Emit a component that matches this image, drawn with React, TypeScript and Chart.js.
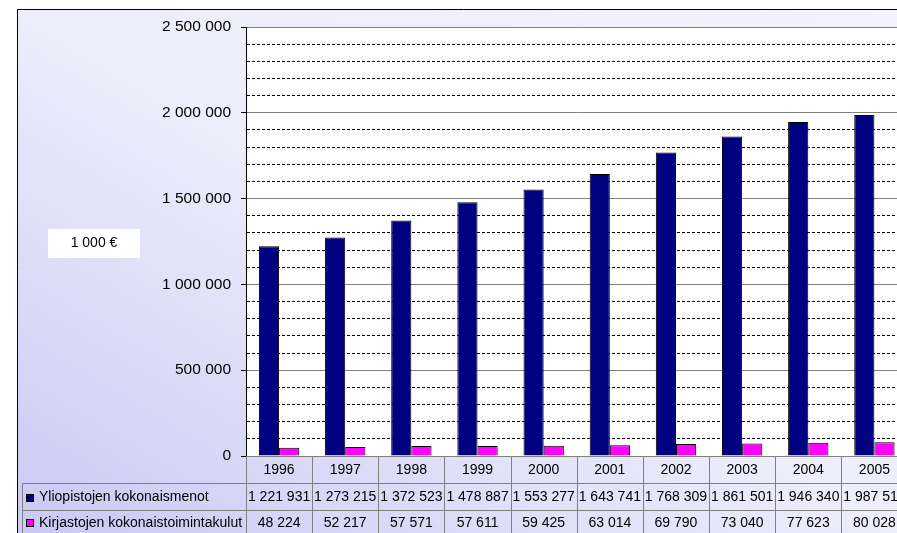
import React, { useEffect, useRef } from 'react';
import { Chart, registerables } from 'chart.js';

Chart.register(...registerables);

const years = ['1996', '1997', '1998', '1999', '2000', '2001', '2002', '2003', '2004', '2005'];
const yliopistot = [1221931, 1273215, 1372523, 1478887, 1553277, 1643741, 1768309, 1861501, 1946340, 1987514];
const kirjastot = [48224, 52217, 57571, 57611, 59425, 63014, 69790, 73040, 77623, 80028];
const seriesNames = ['Yliopistojen kokonaismenot', 'Kirjastojen kokonaistoimintakulut'];
const seriesColors = ['#000080', '#FF00FF'];
const unitLabel = '1 000 €';
const yMax = 2500000;
const majorStep = 500000;
const minorStep = 100000;

const FONT = '"Liberation Sans", Arial, sans-serif';
const fmt = (v: number) => String(v).replace(/\B(?=(\d{3})+(?!\d))/g, ' ');

const W = 910;
const H = 533;

const bgPlugin = {
  id: 'bgPlugin',
  beforeDraw(chart: any) {
    const { ctx, chartArea, width, height } = chart;
    ctx.save();
    ctx.fillStyle = '#ffffff';
    ctx.fillRect(0, 0, width, height);
    const g = ctx.createLinearGradient(17, 533, 541, -347);
    g.addColorStop(0, 'rgb(201,201,244)');
    g.addColorStop(0.44, 'rgb(237,237,251)');
    g.addColorStop(1, 'rgb(244,244,253)');
    ctx.fillStyle = g;
    ctx.fillRect(17, 9, width - 17, height - 9);
    ctx.strokeStyle = '#000';
    ctx.lineWidth = 1;
    ctx.beginPath();
    ctx.moveTo(17.5, height);
    ctx.lineTo(17.5, 9.5);
    ctx.lineTo(width, 9.5);
    ctx.stroke();
    ctx.fillStyle = '#ffffff';
    ctx.fillRect(chartArea.left, chartArea.top, chartArea.right - chartArea.left, chartArea.bottom - chartArea.top);
    // unit box
    ctx.fillRect(48, 229, 92, 29);
    ctx.fillStyle = '#000';
    ctx.font = `14px ${FONT}`;
    ctx.textAlign = 'center';
    ctx.textBaseline = 'middle';
    ctx.fillText(unitLabel, 94, 243.5);
    ctx.restore();
  },
  afterDraw(chart: any) {
    const { ctx, chartArea, width, height } = chart;
    const xs = chart.scales.x;
    const n = years.length;
    const bounds: number[] = [];
    for (let i = 0; i <= n; i++) bounds.push(xs.getPixelForValue(i - 0.5));
    const r0 = chartArea.bottom;
    const r1 = 483;
    const r2 = 510;
    const tableLeft = 22;
    ctx.save();
    ctx.strokeStyle = '#808080';
    ctx.lineWidth = 1;
    ctx.beginPath();
    ctx.moveTo(tableLeft, r1 + 0.5);
    ctx.lineTo(width, r1 + 0.5);
    ctx.moveTo(tableLeft, r2 + 0.5);
    ctx.lineTo(width, r2 + 0.5);
    ctx.moveTo(tableLeft + 0.5, r1);
    ctx.lineTo(tableLeft + 0.5, height);
    for (let i = 0; i < bounds.length; i++) {
      const bx = Math.round(bounds[i]) + 0.5;
      ctx.moveTo(bx, r0);
      ctx.lineTo(bx, height);
    }
    ctx.stroke();

    ctx.fillStyle = '#000';
    ctx.font = `14px ${FONT}`;
    ctx.textAlign = 'center';
    ctx.textBaseline = 'middle';
    const rowsY = [(r0 + r1) / 2 + 0.5, (r1 + r2) / 2 + 1, 523];
    const rows = [yliopistot, kirjastot];
    for (let i = 0; i < n; i++) {
      const cx = (bounds[i] + bounds[i + 1]) / 2;
      ctx.fillText(years[i], cx, rowsY[0]);
      ctx.fillText(fmt(rows[0][i]), cx, rowsY[1]);
      ctx.fillText(fmt(rows[1][i]), cx, rowsY[2]);
    }
    // legend keys
    ctx.textAlign = 'left';
    for (let s = 0; s < 2; s++) {
      const cy = rowsY[s + 1];
      ctx.fillStyle = seriesColors[s];
      ctx.fillRect(26, Math.round(cy - 4), 8, 8);
      ctx.strokeStyle = '#000';
      ctx.strokeRect(26.5, Math.round(cy - 4) + 0.5, 7, 7);
      ctx.fillStyle = '#000';
      ctx.fillText(seriesNames[s], 39, cy);
    }
    ctx.restore();
  },
};

export default function App() {
  const ref = useRef<HTMLCanvasElement | null>(null);
  useEffect(() => {
    if (!ref.current) return;
    const isMajor = (c: any) => c && c.tick && c.tick.value % majorStep === 0;
    const chart = new Chart(ref.current, {
      type: 'bar',
      data: {
        labels: years,
        datasets: [
          {
            label: seriesNames[0],
            data: yliopistot,
            backgroundColor: seriesColors[0],
            borderColor: '#000',
            borderWidth: 1,
            categoryPercentage: 0.61,
            barPercentage: 1,
          },
          {
            label: seriesNames[1],
            data: kirjastot,
            backgroundColor: seriesColors[1],
            borderColor: '#000',
            borderWidth: 1,
            categoryPercentage: 0.61,
            barPercentage: 1,
          },
        ],
      },
      options: {
        responsive: false,
        animation: false,
        devicePixelRatio: 1,
        layout: { padding: { left: 0, top: 27, right: 2.5, bottom: 77 } },
        plugins: {
          legend: { display: false },
          tooltip: { enabled: false },
          title: { display: false },
        },
        scales: {
          x: { display: false, offset: true },
          y: {
            min: 0,
            max: yMax,
            afterFit: (s: any) => {
              s.width = 246;
            },
            ticks: {
              stepSize: minorStep,
              autoSkip: false,
              padding: 10,
              color: '#000',
              font: { family: FONT, size: 15.5 },
              callback: (v: any) => (Number(v) % majorStep === 0 ? fmt(Number(v)) : ''),
            },
            grid: {
              color: (c: any) => (isMajor(c) ? '#808080' : '#000000'),
              lineWidth: 1,
              tickLength: 5,
              tickColor: (c: any) => (isMajor(c) ? '#000000' : 'rgba(0,0,0,0)'),
            },
            border: {
              display: true,
              color: '#000',
              width: 1,
              dash: (c: any) => (c && c.tick && !isMajor(c) ? [3, 2] : []),
            },
          },
        },
      },
      plugins: [bgPlugin],
    } as any);
    return () => chart.destroy();
  }, []);
  return (
    <div style={{ position: 'fixed', left: 0, top: 0, width: 897, height: 533, overflow: 'hidden' }}>
      <canvas ref={ref} width={W} height={H} style={{ display: 'block', width: W, height: H }} />
    </div>
  );
}
